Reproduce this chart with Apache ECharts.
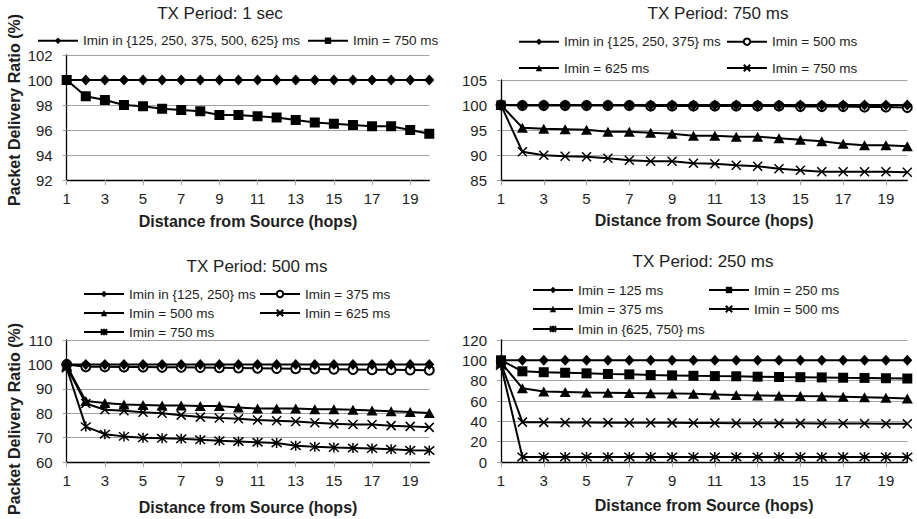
<!DOCTYPE html>
<html>
<head>
<meta charset="utf-8">
<script src="https://cdn.jsdelivr.net/npm/echarts@6/dist/echarts.min.js"></script>
<style>html,body{margin:0;padding:0;background:#fff}#c{width:917px;height:519px}</style>
</head>
<body>
<div id="c"></div>
<script>
// ---------- data ----------
const hops = ['1','2','3','4','5','6','7','8','9','10','11','12','13','14','15','16','17','18','19','20'];

const titles = ['TX Period: 1 sec', 'TX Period: 750 ms', 'TX Period: 500 ms', 'TX Period: 250 ms'];
const xName = 'Distance from Source (hops)';
const yName = 'Packet Delivery Ratio (%)';

// Panel 1: TX Period 1 sec
const p1Labels = ['Imin in {125, 250, 375, 500, 625} ms', 'Imin = 750 ms'];
const p1A = [100,100,100,100,100,100,100,100,100,100,100,100,100,100,100,100,100,100,100,100];
const p1B = [100,98.7,98.4,98.0,97.9,97.7,97.6,97.5,97.2,97.2,97.1,97.0,96.8,96.6,96.5,96.4,96.3,96.3,96.0,95.7];

// Panel 2: TX Period 750 ms
const p2Labels = ['Imin in {125, 250, 375} ms', 'Imin = 500 ms', 'Imin = 625 ms', 'Imin = 750 ms'];
const p2A = [100,100,100,100,100,100,100,100,100,100,100,100,100,100,100,100,100,100,100,100];
const p2B = [100,99.9,99.9,99.9,99.9,99.9,99.9,99.8,99.8,99.8,99.8,99.8,99.8,99.8,99.7,99.7,99.7,99.6,99.6,99.5];
const p2C = [100,95.5,95.3,95.2,95.1,94.7,94.7,94.5,94.3,93.9,93.9,93.7,93.7,93.4,93.1,92.8,92.3,92.0,92.0,91.8];
const p2D = [100,90.7,90.0,89.8,89.7,89.4,89.0,88.8,88.8,88.4,88.3,88.0,87.8,87.3,87.0,86.7,86.7,86.7,86.7,86.6];

// Panel 3: TX Period 500 ms
const p3Labels = ['Imin in {125, 250} ms', 'Imin = 375 ms', 'Imin = 500 ms', 'Imin = 625 ms', 'Imin = 750 ms'];
const p3A = [100,100,100,100,100,100,100,100,100,100,100,100,100,100,100,100,100,100,100,100];
const p3B = [100,99.0,99.0,98.9,98.9,98.8,98.8,98.7,98.6,98.5,98.4,98.3,98.2,98.1,98.0,97.9,97.8,97.8,97.7,97.6];
const p3C = [99.5,85.0,84.2,83.6,83.4,83.2,83.2,83.0,82.9,82.3,81.9,81.9,81.9,81.6,81.6,81.4,81.1,80.8,80.5,80.1];
const p3D = [99,84.0,81.4,81.0,80.4,80.0,79.2,78.4,78.0,77.7,77.2,76.9,76.6,76.1,75.7,75.4,75.4,74.9,74.6,74.2];
const p3E = [98.5,74.5,71.4,70.5,69.9,69.7,69.5,69.1,68.7,68.4,68.1,67.8,66.7,66.2,65.9,65.7,65.5,65.2,64.8,64.7];

// Panel 4: TX Period 250 ms
const p4Labels = ['Imin = 125 ms', 'Imin = 250 ms', 'Imin = 375 ms', 'Imin = 500 ms', 'Imin in {625, 750} ms'];
const p4A = [100,100,100,100,100,100,100,100,100,100,100,100,100,100,100,100,100,100,100,100];
const p4B = [100,89.2,88.3,87.8,87.2,86.6,86.2,85.5,85.2,84.8,84.5,84.3,83.9,83.6,83.4,83.2,82.9,82.7,82.4,82.1];
const p4C = [98,72.6,69.4,68.9,68.4,68.2,67.8,67.6,67.5,67.1,66.5,65.8,65.4,65.2,64.8,64.6,64.2,63.8,63.2,62.5];
const p4D = [97,39.2,39.0,38.9,38.8,38.7,38.6,38.6,38.5,38.4,38.3,38.2,38.1,38.0,38.0,37.9,37.8,37.8,37.7,37.6];
const p4E = [95,5.0,5.0,5.0,5.0,5.0,5.0,5.0,5.0,5.0,5.0,5.0,5.0,5.0,5.0,5.0,5.0,5.0,5.0,5.0];

// y-axis ranges: [min, max, interval]
const yRanges = [[92,102,2],[85,105,5],[60,110,10],[0,120,20]];

// ---------- style ----------
const FONT = 'Liberation Sans, Arial, sans-serif';
const TXT = '#1e1e1e';
const GRID_C = '#a3a3a3';

const SYM = {
  diamond: {symbol:'diamond', symbolSize:[10,11], itemStyle:{color:'#000'}},
  square:  {symbol:'rect', symbolSize:10, itemStyle:{color:'#000'}},
  triangle:{symbol:'triangle', symbolSize:[11,10], itemStyle:{color:'#000'}},
  circle:  {symbol:'emptyCircle', symbolSize:9, itemStyle:{color:'#000', borderWidth:1.5}},
  cross:   {symbol:'path://M0,0L10,10M10,0L0,10', symbolSize:9, itemStyle:{color:'none', borderColor:'#000', borderWidth:1.5}},
  star:    {symbol:'path://M0,0L10,10M10,0L0,10M5,-1L5,11', symbolSize:10, itemStyle:{color:'none', borderColor:'#000', borderWidth:1.5}}
};

const grids = [
  {left:66.7, top:55, width:362.6, height:125},
  {left:501, top:80, width:406.3, height:100.3},
  {left:66.7, top:340, width:362.6, height:122},
  {left:501, top:340, width:406.3, height:122}
];
const xNameGap = [33, 32, 37, 35];
const yLabelMargin = [14, 14, 14, 14];

const panels = [
  {labels:p1Labels, data:[p1A,p1B], sym:['diamond','square'],
   leg:[[37,37.7],[307,37.7]]},
  {labels:p2Labels, data:[p2A,p2B,p2C,p2D], sym:['diamond','circle','triangle','cross'],
   leg:[[518,38.7],[726,38.7],[518,65],[726,65]]},
  {labels:p3Labels, data:[p3A,p3B,p3C,p3D,p3E], sym:['diamond','circle','triangle','cross','star'],
   leg:[[83,291],[259,291],[83,310],[259,310],[83,329]]},
  {labels:p4Labels, data:[p4A,p4B,p4C,p4D,p4E], sym:['diamond','square','triangle','cross','star'],
   leg:[[532,287],[708,287],[532,306],[708,306],[532,326]]}
];

const titlePos = [[220,14],[718,14],[257,267],[703,262]];

const xAxes = [], yAxes = [], series = [], legends = [], titleArr = [];
panels.forEach((p, gi) => {
  xAxes.push({
    type:'category', gridIndex:gi, data:hops, boundaryGap:false,
    name:xName, nameLocation:'middle', nameGap:xNameGap[gi],
    nameTextStyle:{fontFamily:FONT, fontSize:16, fontWeight:'bold', color:TXT},
    axisLine:{lineStyle:{color:'#000', width:1.3}},
    axisTick:{show:true, interval:1, length:5, lineStyle:{color:GRID_C}},
    axisLabel:{interval:1, margin:11, fontFamily:FONT, fontSize:15, color:TXT},
    splitLine:{show:false}
  });
  const r = yRanges[gi];
  yAxes.push({
    type:'value', gridIndex:gi, min:r[0], max:r[1], interval:r[2],
    axisLine:{show:true, lineStyle:{color:'#000', width:1.3}},
    axisTick:{show:true, length:4, lineStyle:{color:GRID_C}},
    axisLabel:{margin:yLabelMargin[gi], fontFamily:FONT, fontSize:15, color:TXT},
    splitLine:{show:true, lineStyle:{color:GRID_C, width:1}}
  });
  p.labels.forEach((lab, si) => {
    const id = lab + '#' + gi;
    const s = SYM[p.sym[si]];
    series.push({
      type:'line', name:id, xAxisIndex:gi, yAxisIndex:gi, data:p.data[si],
      symbol:s.symbol, symbolSize:s.symbolSize, showAllSymbol:true,
      itemStyle:s.itemStyle, lineStyle:{color:'#000', width:2},
      animation:false, z: 10 - si
    });
    legends.push({
      left:p.leg[si][0], top:p.leg[si][1] - 4, padding:0,
      itemWidth:40, itemHeight:8, itemGap:0,
      data:[id], selectedMode:false,
      formatter:(n) => n.split('#')[0],
      textStyle:{fontFamily:FONT, fontSize:13.5, color:TXT}
    });
  });
  titleArr.push({
    text:titles[gi], left:titlePos[gi][0], top:titlePos[gi][1] - 9, textAlign:'center', padding:0,
    textStyle:{fontFamily:FONT, fontSize:17, fontWeight:'normal', color:TXT}
  });
});

const chart = echarts.init(document.getElementById('c'), null, {renderer:'svg'});
chart.setOption({
  animation:false,
  backgroundColor:'#fff',
  title:titleArr,
  legend:legends,
  grid:grids,
  xAxis:xAxes,
  yAxis:yAxes,
  series:series,
  graphic:[
    {type:'text', x:14, y:110, rotation:Math.PI/2,
     style:{text:yName, font:'bold 16px ' + FONT, fill:TXT, textAlign:'center', textVerticalAlign:'middle', align:'center', verticalAlign:'middle'}},
    {type:'text', x:14, y:419, rotation:Math.PI/2,
     style:{text:yName, font:'bold 16px ' + FONT, fill:TXT, textAlign:'center', textVerticalAlign:'middle', align:'center', verticalAlign:'middle'}}
  ]
});
</script>
</body>
</html>
